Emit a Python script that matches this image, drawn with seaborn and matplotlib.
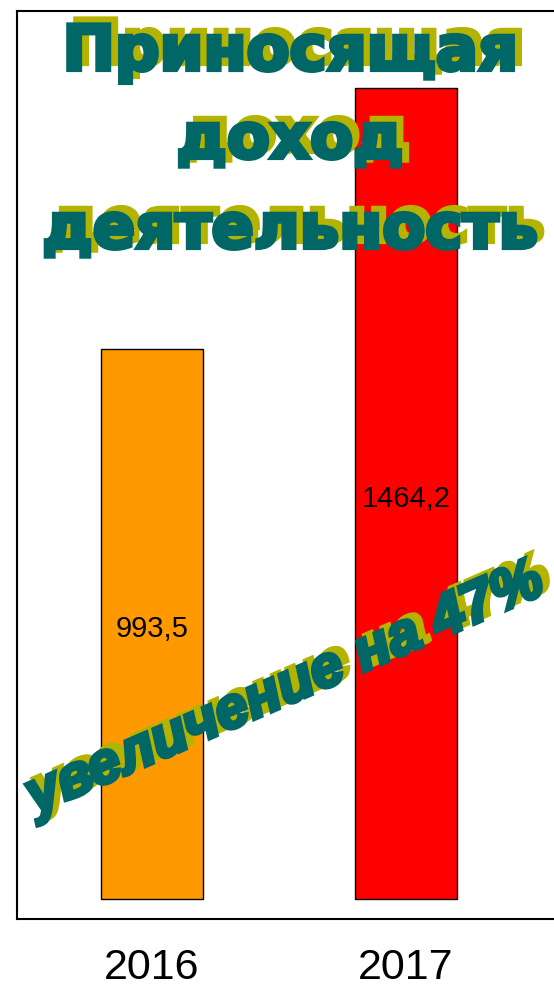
import numpy as np
import pandas as pd
import matplotlib
matplotlib.use("Agg")
import matplotlib.pyplot as plt
import matplotlib.patheffects as pe
import seaborn as sns

# ---------- Data ----------
years = ["2016", "2017"]
values = [993.5, 1464.2]
value_labels = ["993,5", "1464,2"]
bar_colors = ["#FF9900", "#FF0000"]
title_lines = ["Приносящая", "доход", "деятельность"]
note_text = "увеличение на 47%"

df = pd.DataFrame({"year": years, "value": values})

# ---------- Style ----------
sns.set_style("white")
plt.rcParams["font.family"] = ["Liberation Sans", "DejaVu Sans"]

TEAL = "#006666"
OLIVE = "#B3B300"


def wordart(lw):
    # olive drop shadow up-right, then thickened teal letters
    return [
        pe.PathPatchEffect(offset=(5, 4.3), facecolor=OLIVE, edgecolor=OLIVE, linewidth=lw),
        pe.PathPatchEffect(facecolor=TEAL, edgecolor=TEAL, linewidth=lw),
    ]


W, H = 554, 994
fig = plt.figure(figsize=(W / 100, H / 100), dpi=100)
ax = fig.add_axes([17 / W, (H - 919) / H, (562 - 17) / W, (919 - 11) / H])

sns.barplot(data=df, x="year", y="value", hue="year", palette=bar_colors,
            legend=False, width=0.4, edgecolor="black", linewidth=1.0,
            saturation=1, ax=ax)

# value labels in the middle of each bar
for i, (v, lab) in enumerate(zip(values, value_labels)):
    ax.annotate(lab, (i, v / 2), xytext=(0, -4), textcoords="offset points",
                ha="center", va="center", fontsize=21, color="black")

ax.set_xlim(-0.531, (562 - 152) / 254)
ax.set_ylim(-36, 1603)
ax.set_yticks([])
ax.set_xlabel("")
ax.set_ylabel("")
ax.tick_params(axis="x", length=0, pad=21, labelsize=31, labelcolor="black")
for sp in ax.spines.values():
    sp.set_visible(True)
    sp.set_color("black")
    sp.set_linewidth(1.5)

# ---------- Title (WordArt style) ----------
baselines = [70, 158, 248]
for line, yb in zip(title_lines, baselines):
    fig.text(290 / W, 1 - yb / H, line, ha="center", va="baseline",
             fontsize=45, fontweight="heavy", color=TEAL,
             family=["DejaVu Sans"], path_effects=wordart(3), zorder=5)

# ---------- Rotated note ----------
fig.text(35 / W, 1 - 814 / H, note_text, ha="left", va="baseline",
         rotation=23.4, rotation_mode="anchor",
         fontsize=42, fontweight="bold", fontstyle="italic", color=TEAL,
         family=["Liberation Sans", "DejaVu Sans"], path_effects=wordart(3), zorder=5)

fig.savefig("out.png", dpi=100)
